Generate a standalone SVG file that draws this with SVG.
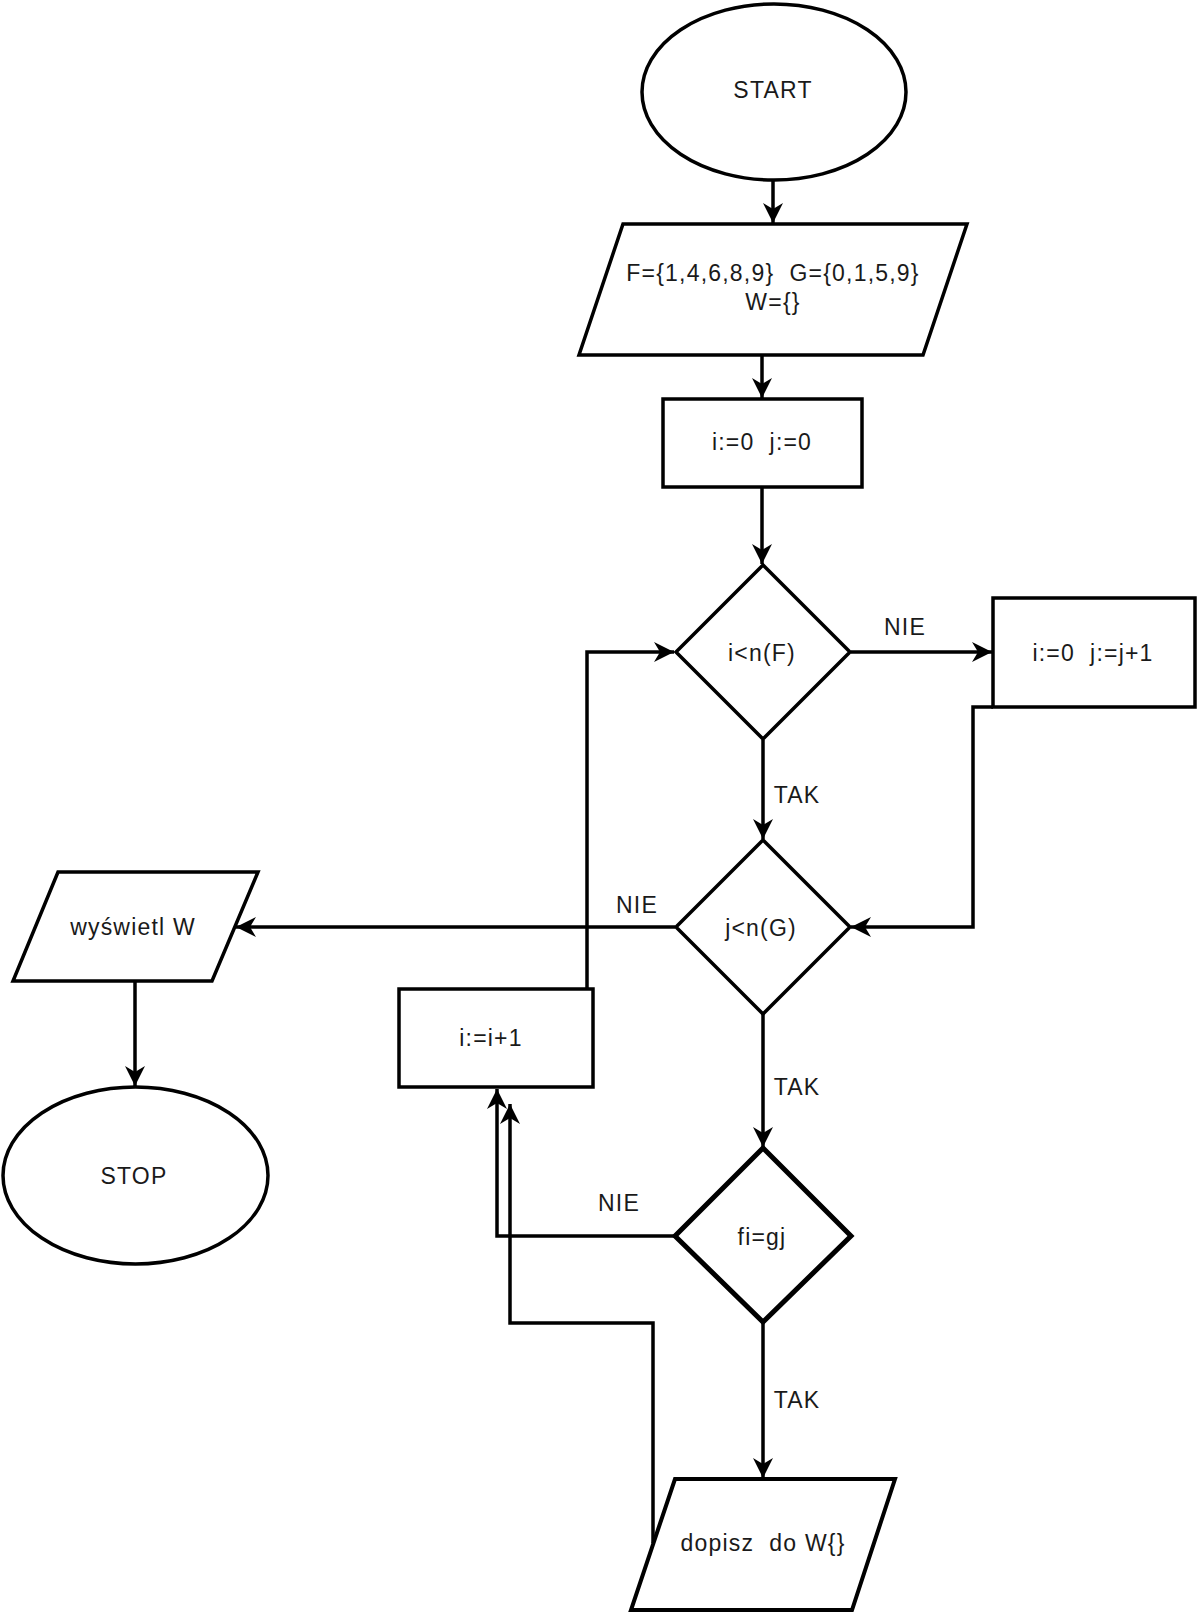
<svg xmlns="http://www.w3.org/2000/svg" width="1200" height="1618" viewBox="0 0 1200 1618">
<defs>
<marker id="arr" markerUnits="userSpaceOnUse" markerWidth="24" markerHeight="24" viewBox="-22 -11 24 22" refX="0" refY="0" orient="auto" overflow="visible">
<path d="M0,0 L-20,-10 L-14,0 L-20,10 Z" fill="#000"/>
</marker>
<style>
.s{fill:#fff;stroke:#000;stroke-width:3.5;}
.t{font-family:"Liberation Sans",Arial,sans-serif;font-size:23px;fill:#1a1a1a;text-anchor:middle;letter-spacing:1.2px;}
.c{fill:none;stroke:#000;stroke-width:3.5;marker-end:url(#arr);}
</style>
</defs>
<rect width="1200" height="1618" fill="#fff"/>
<g id="connectors">
<path class="c" d="M773,181 L773,223"/>
<path class="c" d="M762,356 L762,398"/>
<path class="c" d="M762,488 L762,564"/>
<path class="c" d="M851,652 L992,652"/>
<path class="c" d="M993,707 L973,707 L973,927 L851,927"/>
<path class="c" d="M763,740 L763,839"/>
<path class="c" d="M675,927 L236,927"/>
<path class="c" d="M135,982 L135,1086"/>
<path class="c" d="M763,1014 L763,1147"/>
<path class="c" d="M674,1236 L497,1236 L497,1089"/>
<path class="c" d="M653,1543 L653,1323 L510,1323 L510,1104"/>
<path class="c" d="M587,989 L587,652 L674,652"/>
<path class="c" d="M763,1323 L763,1478"/>
</g>
<g id="start">
<ellipse class="s" cx="774" cy="92" rx="132" ry="88"/>
<text class="t" x="773" y="98">START</text>
</g>
<g id="input">
<polygon class="s" points="623,224 967,224 923,355 579,355"/>
<text class="t" x="773" y="281" xml:space="preserve">F={1,4,6,8,9}  G={0,1,5,9}</text>
<text class="t" x="773" y="310">W={}</text>
</g>
<g id="init">
<rect class="s" x="663" y="399" width="199" height="88"/>
<text class="t" x="762" y="450" xml:space="preserve">i:=0  j:=0</text>
</g>
<g id="cond-i">
<polygon class="s" points="763,565 850,652 763,739 676,652"/>
<text class="t" x="762" y="661">i&lt;n(F)</text>
</g>
<g id="next-j">
<rect class="s" x="993" y="598" width="202" height="109"/>
<text class="t" x="1093" y="661" xml:space="preserve">i:=0  j:=j+1</text>
</g>
<g id="cond-j">
<polygon class="s" points="763,840 850,927 763,1014 676,927"/>
<text class="t" x="761" y="936">j&lt;n(G)</text>
</g>
<g id="show">
<polygon class="s" points="58,872 258,872 212,981 13,981"/>
<text class="t" x="133" y="935">wyświetl W</text>
</g>
<g id="stop">
<ellipse class="s" cx="135.5" cy="1175.5" rx="132.5" ry="88.5"/>
<text class="t" x="134" y="1184">STOP</text>
</g>
<g id="inc-i">
<rect class="s" x="399" y="989" width="194" height="98"/>
<text class="t" x="491" y="1046">i:=i+1</text>
</g>
<g id="cond-eq">
<polygon class="s" style="stroke-width:5" points="763,1148 851,1236 763,1322 675,1236"/>
<text class="t" x="762" y="1245">fi=gj</text>
</g>
<g id="append">
<polygon class="s" style="stroke-width:4" points="675,1479 895,1479 852,1610 631,1610"/>
<text class="t" x="763" y="1551" xml:space="preserve">dopisz  do W{}</text>
</g>
<g id="labels">
<text class="t" x="905" y="635">NIE</text>
<text class="t" x="797" y="803">TAK</text>
<text class="t" x="637" y="913">NIE</text>
<text class="t" x="797" y="1095">TAK</text>
<text class="t" x="619" y="1211">NIE</text>
<text class="t" x="797" y="1408">TAK</text>
</g>
</svg>
